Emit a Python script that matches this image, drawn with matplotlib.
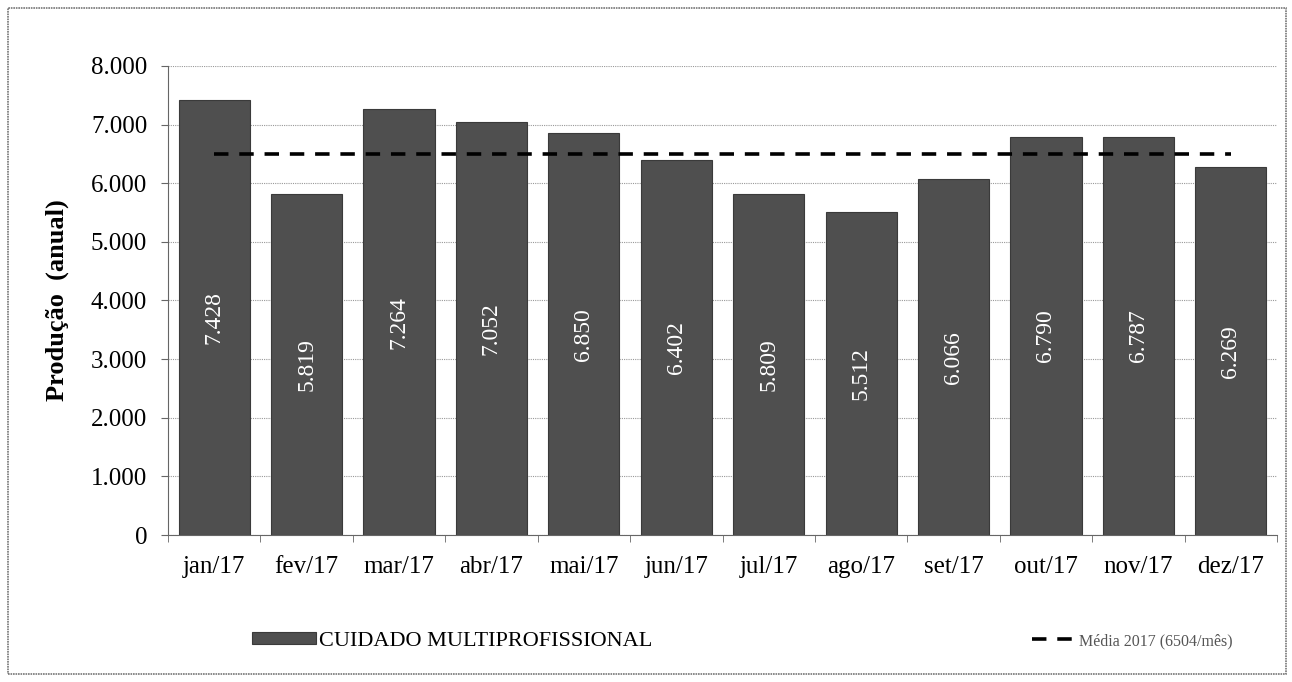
import matplotlib
matplotlib.use("Agg")
import matplotlib.pyplot as plt
from matplotlib.patches import Rectangle
from matplotlib.ticker import FuncFormatter

months = ["jan/17", "fev/17", "mar/17", "abr/17", "mai/17", "jun/17",
          "jul/17", "ago/17", "set/17", "out/17", "nov/17", "dez/17"]
values = [7428, 5819, 7264, 7052, 6850, 6402, 5809, 5512, 6066, 6790, 6787, 6269]
mean_value = 6504
series_label = "CUIDADO MULTIPROFISSIONAL"
mean_label = "Média 2017 (6504/mês)"
ylabel = "Produção  (anual)"

plt.rcParams['font.family'] = ['Liberation Serif', 'DejaVu Serif']

fig = plt.figure(figsize=(12.92, 6.82), dpi=100)
fig.patches.append(Rectangle((8/1292, 8/682), 1 - 14/1292, 1 - 16/682,
                             transform=fig.transFigure, fill=False,
                             edgecolor='#777777', linewidth=1.2, linestyle=(0, (1, 0.5))))
ax = fig.add_axes([168/1292, 1 - 535/682, (1277 - 168)/1292, (535 - 66)/682])

x = list(range(len(months)))
bars = ax.bar(x, values, width=0.77, color='#4f4f4f', edgecolor='#3a3a3a',
              linewidth=0.8, label=series_label, zorder=2)
ax.plot([0, 11], [mean_value, mean_value], color='black', linestyle=(0, (4, 3)),
        linewidth=2.6, label=mean_label, zorder=3)

for xi, v in zip(x, values):
    ax.text(xi, v / 2, f"{v:,}".replace(",", "."), rotation=90, ha='center', va='center',
            color='white', fontsize=17, zorder=4)

ax.set_xlim(-0.5, 11.5)
ax.set_ylim(0, 8000)
ax.set_yticks(range(0, 8001, 1000))
ax.yaxis.set_major_formatter(FuncFormatter(lambda v, p: f"{int(v):,}".replace(",", ".")))
ax.set_xticks(x)
ax.set_xticklabels(months, fontsize=18)
ax.tick_params(axis='y', labelsize=18, length=5, color='#666666', pad=10)
ax.tick_params(axis='x', length=4, color='#666666', pad=15)
ax.set_xticks([i - 0.5 for i in range(13)], minor=True)
ax.tick_params(axis='x', which='major', length=0)
ax.tick_params(axis='x', which='minor', length=5, color='#666666')
ax.grid(axis='y', color='#999999', linestyle=(0, (1, 1)), linewidth=0.8, zorder=0)
ax.set_axisbelow(True)
for s in ['top', 'right']:
    ax.spines[s].set_visible(False)
ax.spines['left'].set_color('#666666')
ax.spines['bottom'].set_color('#666666')
ax.set_ylabel(ylabel, fontsize=19, fontweight='bold', labelpad=16)

fig.legend(handles=[bars], labels=[series_label], loc='center left',
           bbox_to_anchor=(232/1292, 1 - 641/682), frameon=False, fontsize=16,
           handlelength=2.9, handleheight=0.45, handletextpad=0.1)
line_handle = ax.get_lines()[0]
fig.legend(handles=[line_handle], labels=[mean_label], loc='center left',
           bbox_to_anchor=(1018/1292, 1 - 641/682), frameon=False, fontsize=11.5,
           handlelength=2.6, handletextpad=0.3, labelcolor='#555555')

fig.savefig("out.png", dpi=100)
